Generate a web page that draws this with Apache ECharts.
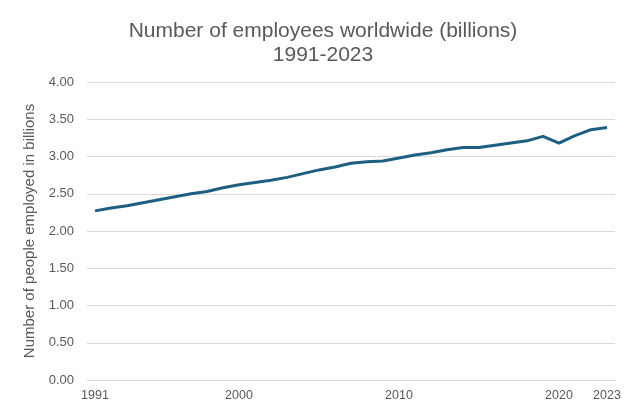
<!DOCTYPE html>
<html>
<head>
<meta charset="utf-8">
<script src="https://cdn.jsdelivr.net/npm/echarts@6/dist/echarts.min.js"></script>
<style>
  html, body { margin: 0; padding: 0; background: #ffffff; }
  #chart { width: 631px; height: 405px; }
</style>
</head>
<body>
<div id="chart"></div>
<script>
// Years on the category axis
const years = [];
for (let y = 1991; y <= 2023; y++) years.push(String(y));

// Employed people worldwide, billions
const employees = [
  2.27, 2.31, 2.34, 2.38, 2.42, 2.46, 2.50, 2.53, 2.58, 2.62,
  2.65, 2.68, 2.72, 2.77, 2.82, 2.86, 2.91, 2.93, 2.94, 2.98,
  3.02, 3.05, 3.09, 3.12, 3.12, 3.15, 3.18, 3.21, 3.27, 3.18,
  3.28, 3.36, 3.39
];

// Years that carry a label on the x axis
const labeledYears = ['1991', '2000', '2010', '2020', '2023'];

const textColor = '#595959';
const fontFamily = '"Liberation Sans", Arial, sans-serif';

const chart = echarts.init(document.getElementById('chart'), null, { renderer: 'canvas' });
chart.setOption({
  animation: false,
  backgroundColor: '#ffffff',
  title: {
    text: 'Number of employees worldwide (billions)\n1991-2023',
    left: 318,
    textAlign: 'center',
    top: 14,
    textStyle: {
      color: textColor,
      fontFamily: fontFamily,
      fontSize: 21,
      fontWeight: 'normal',
      lineHeight: 24
    }
  },
  grid: { left: 87, right: 16, top: 82, bottom: 25 },
  xAxis: {
    type: 'category',
    data: years,
    boundaryGap: true,
    axisLine: { show: true, lineStyle: { color: '#d9d9d9', width: 1 } },
    axisTick: { show: false },
    axisLabel: {
      color: textColor,
      fontFamily: fontFamily,
      fontSize: 12.5,
      margin: 9,
      interval: function (index, value) { return labeledYears.indexOf(value) !== -1; }
    },
    splitLine: { show: false }
  },
  yAxis: {
    type: 'value',
    min: 0,
    max: 4,
    interval: 0.5,
    name: 'Number of people employed in billions',
    nameLocation: 'middle',
    nameGap: 48,
    nameTextStyle: { color: textColor, fontFamily: fontFamily, fontSize: 15 },
    axisLine: { show: false },
    axisTick: { show: false },
    axisLabel: {
      color: textColor,
      fontFamily: fontFamily,
      fontSize: 13,
      margin: 13,
      formatter: function (v) { return v.toFixed(2); }
    },
    splitLine: { lineStyle: { color: '#d9d9d9', width: 1 } }
  },
  series: [{
    type: 'line',
    data: employees,
    symbol: 'none',
    smooth: false,
    lineStyle: { color: '#1d5f80', width: 3 }
  }]
});
</script>
</body>
</html>
